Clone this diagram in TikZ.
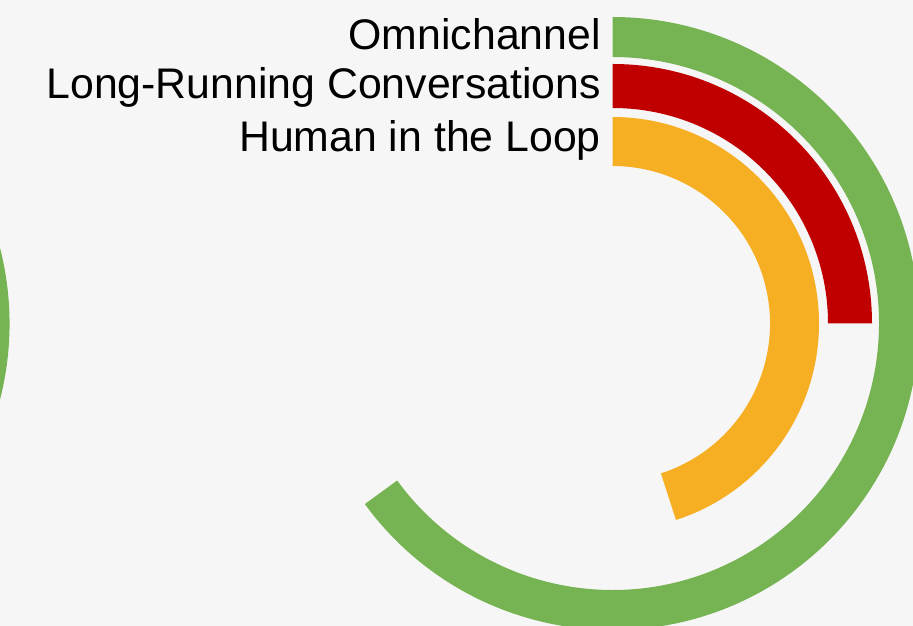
\documentclass[tikz,border=0pt]{standalone}
\usepackage{fontspec}
\setmainfont{Liberation Sans}
\definecolor{bgc}{HTML}{F6F6F6}
\definecolor{ringgreen}{HTML}{76B353}
\definecolor{ringred}{HTML}{C00000}
\definecolor{ringyellow}{HTML}{F6AF22}
\begin{document}
\begin{tikzpicture}[x=1pt,y=1pt,
  lbl/.style={anchor=base east,inner sep=0pt,font=\fontsize{42.8}{50}\selectfont,text=black}]
\useasboundingbox (0,0) rectangle (913,626);
\fill[bgc] (0,0) rectangle (913,626);
\clip (0,0) rectangle (913,626);
% main chart centre
\coordinate (c) at (612.5,302.5);
% green ring
\fill[ringgreen] ([shift={(90:306.5)}]c) arc[start angle=90,end angle=-143.9,radius=306.5]
  -- ([shift={(-143.9:266.5)}]c) arc[start angle=-143.9,end angle=90,radius=266.5] -- cycle;
% red ring
\fill[ringred] ([shift={(90:259.5)}]c) arc[start angle=90,end angle=0,radius=259.5]
  -- ([shift={(0:215.5)}]c) arc[start angle=0,end angle=90,radius=215.5] -- cycle;
% yellow ring
\fill[ringyellow] ([shift={(90:206.5)}]c) arc[start angle=90,end angle=-72.1,radius=206.5]
  -- ([shift={(-72.1:157.5)}]c) arc[start angle=-72.1,end angle=90,radius=157.5] -- cycle;
% neighbouring chart's green ring (cut off at the left edge)
\coordinate (c2) at (-297,302.5);
\fill[ringgreen] ([shift={(60:306.5)}]c2) arc[start angle=60,end angle=-60,radius=306.5]
  -- ([shift={(-60:266.5)}]c2) arc[start angle=-60,end angle=60,radius=266.5] -- cycle;
% labels
\node[lbl] (omni) at (601,576) {Omnichannel};
\node[lbl] (long) at (601,527) {Long-Running Conversations};
\node[lbl] (human) at (601,474) {Human in the Loop};
\end{tikzpicture}
\end{document}
